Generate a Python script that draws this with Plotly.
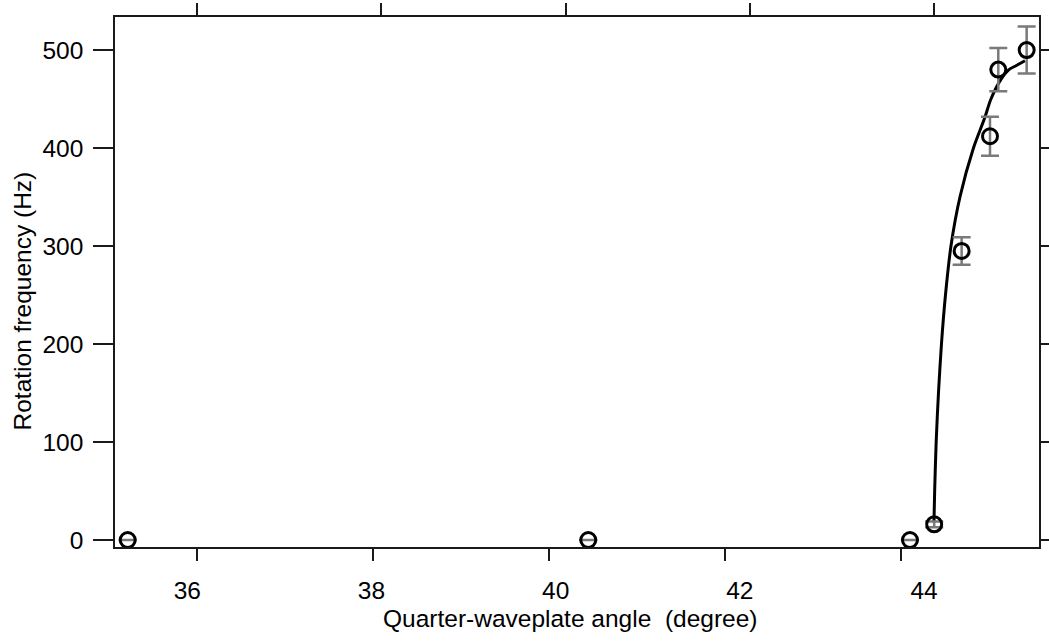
import plotly.graph_objects as go

# Measured data (quarter-waveplate angle in degrees, rotation frequency in Hz)
angle = [35.353, 40.354, 43.847, 44.110, 44.408, 44.716, 44.806, 45.114]
freq = [0, 0, 0, 16, 295, 412, 480, 500]
freq_err = [0, 0, 0, 3, 14, 20, 22, 24]

# Fitted curve
fit_angle = [44.1075, 44.1151, 44.1314, 44.1564, 44.1889, 44.2324, 44.2921,
             44.3898, 44.5364, 44.6558, 44.7264, 44.8350, 44.9218, 44.9978, 45.0955]
fit_freq = [18, 50, 100, 150, 200, 250, 300,
            350, 400, 430, 450, 470, 480, 484, 489]

tick_vals = [36, 38, 40, 42, 44]
tick_text = ["36", "38", "40", "42", "44"]
y_ticks = [0, 100, 200, 300, 400, 500]

FONT = "Liberation Sans, Arial, Helvetica, sans-serif"
FS = 24.5
AX = "#1a1a1a"
GRAY = "#7a7a7a"

fig = go.Figure()

fig.add_trace(go.Scatter(x=fit_angle, y=fit_freq, mode="lines",
                         line=dict(color="black", width=3, shape="spline", smoothing=0.8),
                         hoverinfo="skip", showlegend=False))
fig.add_trace(go.Scatter(
    x=angle, y=freq, mode="markers",
    marker=dict(symbol="circle-open", size=15, color="black", line=dict(width=3)),
    error_y=dict(type="data", array=freq_err, visible=True, color=GRAY,
                 thickness=2.5, width=9),
    showlegend=False))
# empty traces so the extra tick-only axes are created
fig.add_trace(go.Scatter(x=[], y=[], xaxis="x2", showlegend=False))
fig.add_trace(go.Scatter(x=[], y=[], xaxis="x3", showlegend=False))

fig.update_layout(
    template="none",
    width=1049, height=642,
    margin=dict(l=115, r=10, t=17, b=95, autoexpand=False),
    paper_bgcolor="white", plot_bgcolor="white",
    font=dict(family=FONT, size=FS, color="black"),
    xaxis=dict(range=[35.215, 45.248], tickvals=tick_vals, ticktext=tick_text,
               ticks="outside", ticklen=13, tickcolor="rgba(0,0,0,0)",
               ticklabelstandoff=8, automargin=False,
               showline=True, linecolor=AX, linewidth=1.6, mirror=True,
               showgrid=False, zeroline=False),
    xaxis2=dict(range=[35.0683, 45.5669], overlaying="x", side="bottom", anchor="y",
                tickvals=tick_vals, ticks="outside", ticklen=13, tickwidth=1.6,
                tickcolor=AX, showticklabels=False, showline=False, automargin=False,
                showgrid=False, zeroline=False),
    xaxis3=dict(range=[35.1104, 45.1348], overlaying="x", side="top", anchor="y",
                tickvals=tick_vals, ticks="outside", ticklen=13, tickwidth=1.6,
                tickcolor=AX, showticklabels=False, showline=False, automargin=False,
                showgrid=False, zeroline=False),
    yaxis=dict(range=[-7.14, 533.7], tickvals=y_ticks,
               ticks="outside", ticklen=20, tickwidth=1.6, tickcolor=AX,
               ticklabelstandoff=5, automargin=False,
               showline=True, linecolor=AX, linewidth=1.6, mirror="ticks",
               showgrid=False, zeroline=False),
    annotations=[
        dict(text="Quarter-waveplate angle \u00a0(degree)", xref="paper", yref="paper",
             x=0.4930, y=-0.1358, xanchor="center", yanchor="middle",
             showarrow=False, font=dict(family=FONT, size=FS, color="black")),
        dict(text="Rotation frequency (Hz)", xref="paper", yref="paper",
             x=-0.0996, y=0.4651, xanchor="center", yanchor="middle", textangle=-90,
             showarrow=False, font=dict(family=FONT, size=FS, color="black")),
    ],
)

fig.write_html("out.html")
